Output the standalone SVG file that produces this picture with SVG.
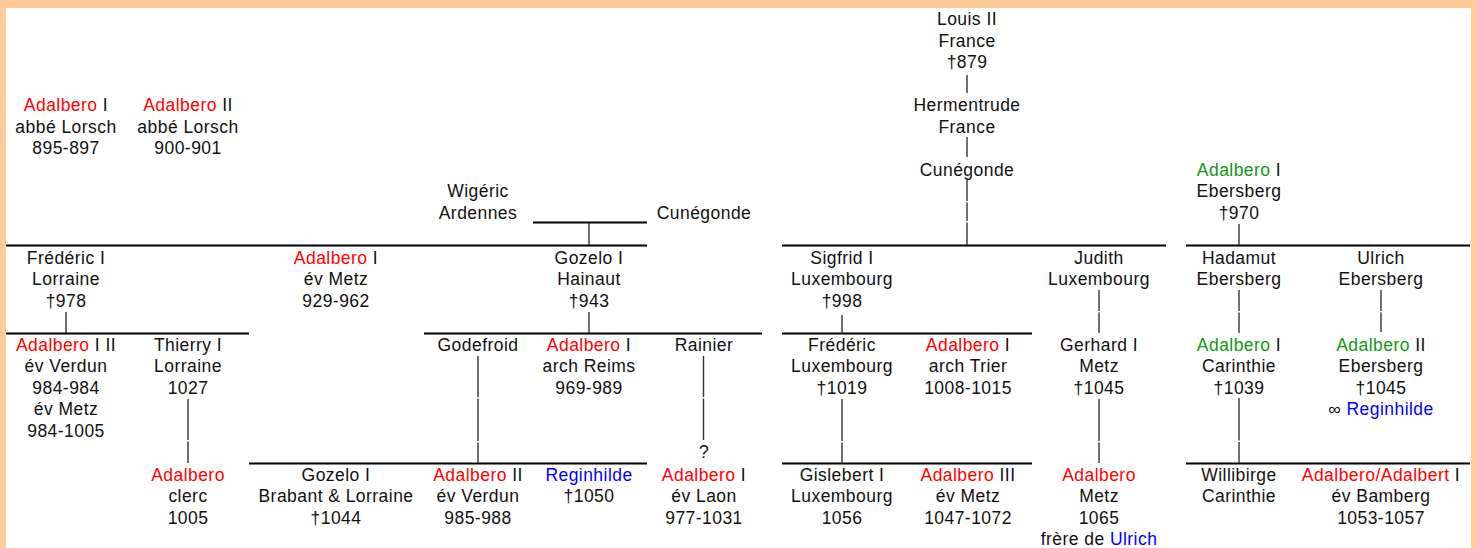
<svg xmlns="http://www.w3.org/2000/svg" width="1476" height="548" viewBox="0 0 1476 548">
<style>
text{font-family:"Liberation Sans",Arial,sans-serif;font-size:17.5px;letter-spacing:0.45px;fill:#111;text-anchor:middle}
.r{fill:#ff0000}.g{fill:#119911}.b{fill:#0000ff}
.h{stroke:#000;stroke-width:2;fill:none}
.v{stroke:#333;stroke-width:1.4;fill:none}
</style>
<rect x="0" y="0" width="1476" height="548" fill="#ffcc99"/>
<rect x="6" y="8" width="1465" height="540" fill="#ffffff"/>
<g id="connectors">
<path class="h" d="M533 222.5H647M6 245.5H647M782 245.5H1166M1186 245.5H1470M6 333.5H249M424 333.5H762M782 333.5H1032M249 463.5H647M782 463.5H1032M1186 463.5H1470"/>
<path class="v" d="M66 312V333M589 223V245M589 312V333M478 356V397M478 398.5V441M478 442.5V463M703.5 356V397M703.5 398.5V440M188 399V440M188 441.5V463M967 75V93M967 137V157M967 180V201M967 202.5V221M967 222.5V245M842 315V334M842 399V441M842 442.5V464M1099 290V311M1099 312.5V333M1099 399V441M1099 442.5V463M1239 224V245M1239 290V311M1239 312.5V333M1239 398V440.5M1239 442V463M1381 290V311M1381 312.5V332"/>
<text x="704" y="457.5">?</text>
</g>
<g id="n-adalbero-lorsch1"><text x="66" y="111"><tspan class="r">Adalbero</tspan> I</text><text x="66" y="132.5">abbé Lorsch</text><text x="66" y="154">895-897</text></g>
<g id="n-adalbero-lorsch2"><text x="188" y="111"><tspan class="r">Adalbero</tspan> II</text><text x="188" y="132.5">abbé Lorsch</text><text x="188" y="154">900-901</text></g>
<g id="n-louis"><text x="967" y="25">Louis II</text><text x="967" y="46.5">France</text><text x="967" y="68">†879</text></g>
<g id="n-hermentrude"><text x="967" y="111">Hermentrude</text><text x="967" y="132.5">France</text></g>
<g id="n-cunegonde1"><text x="967" y="175.5">Cunégonde</text></g>
<g id="n-wigeric"><text x="478" y="197">Wigéric</text><text x="478" y="218.5">Ardennes</text></g>
<g id="n-cunegonde2"><text x="704" y="218.5">Cunégonde</text></g>
<g id="n-adalbero-ebersberg1"><text x="1239" y="175.5"><tspan class="g">Adalbero</tspan> I</text><text x="1239" y="197">Ebersberg</text><text x="1239" y="218.5">†970</text></g>
<g id="n-frederic1"><text x="66" y="263.5">Frédéric I</text><text x="66" y="285">Lorraine</text><text x="66" y="306.5">†978</text></g>
<g id="n-adalbero-metz1"><text x="336" y="263.5"><tspan class="r">Adalbero</tspan> I</text><text x="336" y="285">év Metz</text><text x="336" y="306.5">929-962</text></g>
<g id="n-gozelo1"><text x="589" y="263.5">Gozelo I</text><text x="589" y="285">Hainaut</text><text x="589" y="306.5">†943</text></g>
<g id="n-sigfrid"><text x="842" y="263.5">Sigfrid I</text><text x="842" y="285">Luxembourg</text><text x="842" y="306.5">†998</text></g>
<g id="n-judith"><text x="1099" y="263.5">Judith</text><text x="1099" y="285">Luxembourg</text></g>
<g id="n-hadamut"><text x="1239" y="263.5">Hadamut</text><text x="1239" y="285">Ebersberg</text></g>
<g id="n-ulrich"><text x="1381" y="263.5">Ulrich</text><text x="1381" y="285">Ebersberg</text></g>
<g id="n-adalbero-verdun1"><text x="66" y="350.5"><tspan class="r">Adalbero</tspan> I II</text><text x="66" y="372">év Verdun</text><text x="66" y="393.5">984-984</text><text x="66" y="415">év Metz</text><text x="66" y="436.5">984-1005</text></g>
<g id="n-thierry"><text x="188" y="350.5">Thierry I</text><text x="188" y="372">Lorraine</text><text x="188" y="393.5">1027</text></g>
<g id="n-godefroid"><text x="478" y="350.5">Godefroid</text></g>
<g id="n-adalbero-reims"><text x="589" y="350.5"><tspan class="r">Adalbero</tspan> I</text><text x="589" y="372">arch Reims</text><text x="589" y="393.5">969-989</text></g>
<g id="n-rainier"><text x="704" y="350.5">Rainier</text></g>
<g id="n-frederic-lux"><text x="842" y="350.5">Frédéric</text><text x="842" y="372">Luxembourg</text><text x="842" y="393.5">†1019</text></g>
<g id="n-adalbero-trier"><text x="968" y="350.5"><tspan class="r">Adalbero</tspan> I</text><text x="968" y="372">arch Trier</text><text x="968" y="393.5">1008-1015</text></g>
<g id="n-gerhard"><text x="1099" y="350.5">Gerhard I</text><text x="1099" y="372">Metz</text><text x="1099" y="393.5">†1045</text></g>
<g id="n-adalbero-carinthie"><text x="1239" y="350.5"><tspan class="g">Adalbero</tspan> I</text><text x="1239" y="372">Carinthie</text><text x="1239" y="393.5">†1039</text></g>
<g id="n-adalbero-ebersberg2"><text x="1381" y="350.5"><tspan class="g">Adalbero</tspan> II</text><text x="1381" y="372">Ebersberg</text><text x="1381" y="393.5">†1045</text><text x="1381" y="415">∞ <tspan class="b">Reginhilde</tspan></text></g>
<g id="n-adalbero-clerc"><text x="188" y="480.5" class="r">Adalbero</text><text x="188" y="502">clerc</text><text x="188" y="523.5">1005</text></g>
<g id="n-gozelo-brabant"><text x="336" y="480.5">Gozelo I</text><text x="336" y="502">Brabant &amp; Lorraine</text><text x="336" y="523.5">†1044</text></g>
<g id="n-adalbero-verdun2"><text x="478" y="480.5"><tspan class="r">Adalbero</tspan> II</text><text x="478" y="502">év Verdun</text><text x="478" y="523.5">985-988</text></g>
<g id="n-reginhilde"><text x="589" y="480.5" class="b">Reginhilde</text><text x="589" y="502">†1050</text></g>
<g id="n-adalbero-laon"><text x="704" y="480.5"><tspan class="r">Adalbero</tspan> I</text><text x="704" y="502">év Laon</text><text x="704" y="523.5">977-1031</text></g>
<g id="n-gislebert"><text x="842" y="480.5">Gislebert I</text><text x="842" y="502">Luxembourg</text><text x="842" y="523.5">1056</text></g>
<g id="n-adalbero-metz3"><text x="968" y="480.5"><tspan class="r">Adalbero</tspan> III</text><text x="968" y="502">év Metz</text><text x="968" y="523.5">1047-1072</text></g>
<g id="n-adalbero-metz1065"><text x="1099" y="480.5" class="r">Adalbero</text><text x="1099" y="502">Metz</text><text x="1099" y="523.5">1065</text><text x="1099" y="545">frère de <tspan class="b">Ulrich</tspan></text></g>
<g id="n-willibirge"><text x="1239" y="480.5">Willibirge</text><text x="1239" y="502">Carinthie</text></g>
<g id="n-adalbero-bamberg"><text x="1381" y="480.5"><tspan class="r">Adalbero/Adalbert</tspan> I</text><text x="1381" y="502">év Bamberg</text><text x="1381" y="523.5">1053-1057</text></g>
</svg>
